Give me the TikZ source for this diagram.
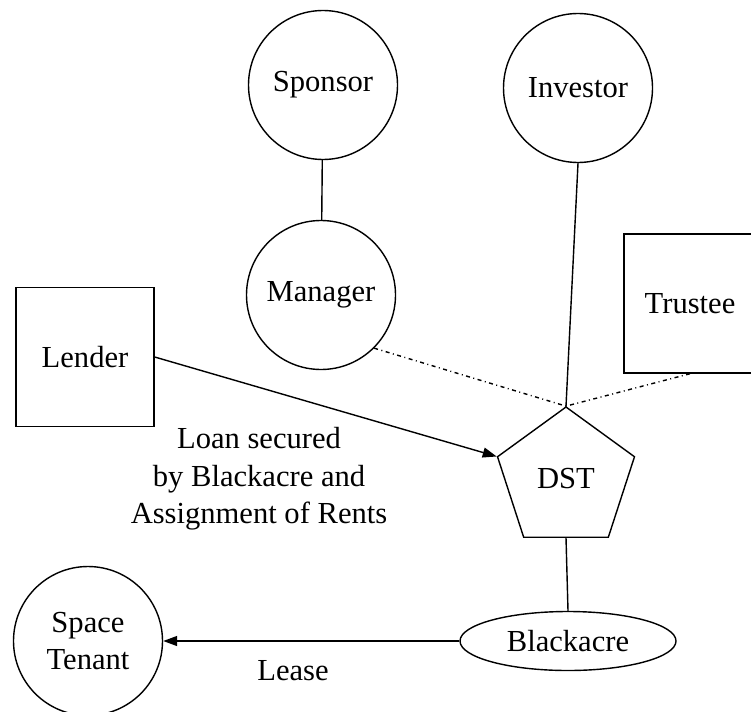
\documentclass[tikz,border=0pt]{standalone}
\usepackage{fontspec}
\setmainfont{Liberation Serif}
\usetikzlibrary{shapes.geometric,arrows.meta}

\begin{document}
\begin{tikzpicture}[auto,
    line width=0.8pt,
    every node/.style={font=\fontsize{17.4}{21.3}\selectfont},
    party/.style={draw, circle, inner sep=0pt, minimum size=2.98cm},
    box/.style={draw, rectangle, minimum width=2.7cm, minimum height=2.78cm},
    dashdot/.style={dash pattern=on 0.08cm off 0.07cm on 0.02cm off 0.07cm},
    tip/.style={-{Triangle[length=0.28cm,width=0.2cm]}}]

    \useasboundingbox (0, 0) rectangle (15.02, 14.22);

    \node[party] (a) at (6.46, 12.52) {Sponsor};
    \node[party] (b) at (11.56, 12.46) {Investor};
    \node[party] (c) at (6.42, 8.32) {Manager};
    \node[box, minimum width=2.76cm] (d) at (1.70, 7.08) {Lender};
    \node[box, minimum width=2.64cm] (e) at (13.80, 8.15) {Trustee};
    \node[draw, regular polygon, regular polygon sides=5, inner sep=0pt,
          minimum size=2.88cm] (f) at (11.32, 4.64) {DST};
    \node[draw, ellipse, inner sep=0pt, minimum width=4.32cm,
          minimum height=1.18cm] (g) at (11.36, 1.40) {Blackacre};
    \node[party, align=center] (h) at (1.76, 1.40) {Space\\Tenant};
    \node[align=center] (i) at (5.18, 4.64) {Loan secured\\by Blackacre and\\Assignment of Rents};
    \node (j) at (5.86, 0.80) {Lease};

    \draw (a) -- (c);
    \draw (b.south) -- (f.corner 1);
    \draw [dashdot] (c.-45) -- (f.corner 1);
    \draw [dashdot] (e.south) -- (f.corner 1);
    \draw [tip] (d.east) -- (f.corner 2);
    \draw (f.south) -- (g.north);
    \draw [tip] (g.west) -- (h.east);

\end{tikzpicture}
\end{document}
